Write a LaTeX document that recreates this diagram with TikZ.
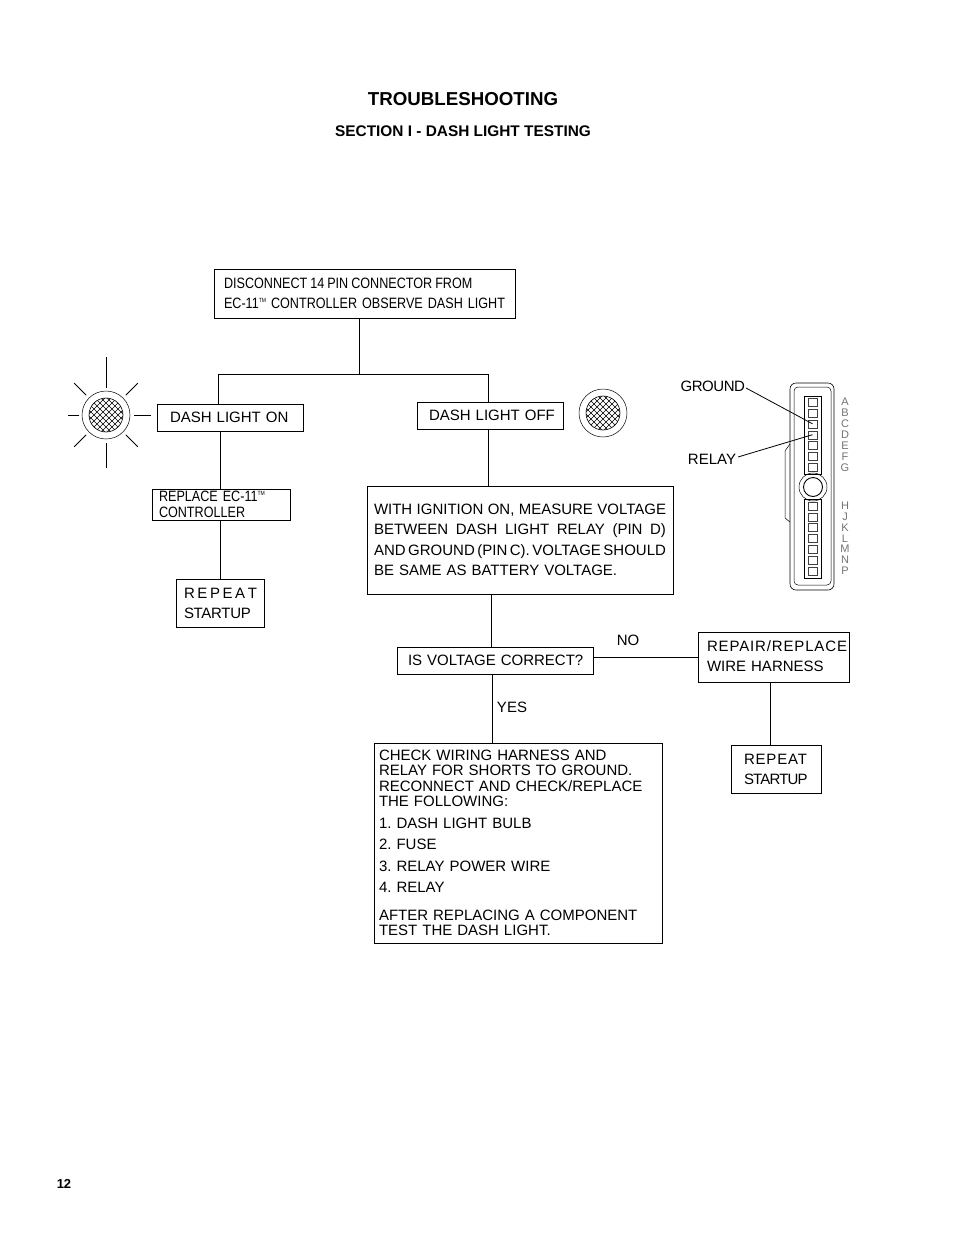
\documentclass[tikz,border=0pt]{standalone}
\usepackage{fontspec}
\usetikzlibrary{calc}
\setmainfont{Liberation Sans}
\newfontfamily\narrowFont[FakeStretch=0.84]{Liberation Sans}
\newcommand{\tmMark}{\raisebox{.7ex}{\fontsize{6}{6}\selectfont TM}}
\newcommand{\tightWords}[2]{\mbox{\spaceskip=#1pt\relax #2}}
\newcommand{\fitLine}[1]{\makebox[292pt][s]{\spaceskip=3pt plus 4pt minus 2pt\relax #1}}
\newcommand{\spaced}[2]{\mbox{\addfontfeature{LetterSpace=#1}#2}}

\begin{document}
\frenchspacing
\begin{tikzpicture}[
  x=1pt,y=-1pt,
  every node/.style={inner sep=0pt,outer sep=0pt},
  flowBox/.style={draw,line width=0.9pt,anchor=north west,align=left,inner xsep=9pt,font=\fontsize{15}{20}\selectfont},
  narrowBox/.style={flowBox,font=\narrowFont\fontsize{15}{19.5}\selectfont},
  flowLine/.style={line width=0.9pt},
  leaderLine/.style={line width=0.8pt},
  plainText/.style={font=\fontsize{15}{18}\selectfont},
  pinBox/.style={draw,line width=0.4pt,black!75,minimum width=8.5pt,minimum height=8pt},
  pinLetter/.style={text=black!55,font=\fontsize{11}{11}\selectfont},
  lampRing/.style={draw,circle,line width=0.5pt,minimum size=48pt},
  lampFace/.style={draw,circle,line width=0.6pt,minimum size=34pt,path picture={
    \foreach \d in {-24,-18,...,24} {
      \draw[line width=0.45pt,shift={(path picture bounding box.center)}] (\d-20,-20) -- (\d+20,20);
      \draw[line width=0.45pt,shift={(path picture bounding box.center)}] (\d-20,20) -- (\d+20,-20);
    }}}]

  \useasboundingbox (0,0) rectangle (954,1235);

  % headings
  \node[font=\bfseries\fontsize{18.7}{22}\selectfont] (title) at (463,99) {TROUBLESHOOTING};
  \node[font=\bfseries\fontsize{15.4}{18}\selectfont] (section) at (463,131) {SECTION I - DASH LIGHT TESTING};
  \node[font=\bfseries\fontsize{13}{16}\selectfont] (pageNum) at (64,1184) {12};

  % flow boxes
  \node[narrowBox,inner xsep=10pt,text width=281pt,minimum height=49pt] (disconnect) at (214,269)
    {\tightWords{3}{DISCONNECT 14 PIN CONNECTOR FROM}\\\mbox{EC-11\tmMark{} CONTROLLER OBSERVE DASH LIGHT}};
  \node[flowBox,inner xsep=13pt,text width=120pt,minimum height=27pt] (dashOn) at (157,404) {DASH LIGHT ON};
  \node[flowBox,inner xsep=12pt,text width=122pt,minimum height=27pt] (dashOff) at (417,402) {\mbox{DASH LIGHT OFF}};
  \node[narrowBox,inner xsep=7pt,text width=124pt,minimum height=31pt,font=\narrowFont\fontsize{15}{16.5}\selectfont] (replace) at (152,489)
    {REPLACE EC-11\tmMark\\CONTROLLER};
  \node[flowBox,inner xsep=8pt,text width=72pt,minimum height=48pt] (repeatOn) at (176,579)
    {\tightWords{2.6}{R E P E A T}\\\spaced{-2}{STARTUP}};
  \node[flowBox,inner xsep=7pt,text width=292pt,minimum height=108pt,font=\fontsize{15}{20.5}\selectfont] (measure) at (367,486)
    {\fitLine{WITH IGNITION ON, MEASURE VOLTAGE}\\
     \fitLine{BETWEEN DASH LIGHT RELAY (PIN D)}\\
     \fitLine{AND GROUND (PIN C). VOLTAGE SHOULD}\\
     BE SAME AS BATTERY VOLTAGE.};
  \node[flowBox,inner xsep=11pt,text width=174pt,minimum height=27pt] (isVoltage) at (397,647) {\mbox{IS VOLTAGE CORRECT?}};
  \node[flowBox,text width=133pt,minimum height=50pt] (repair) at (698,632)
    {\raisebox{2pt}{\spaced{5.7}{REPAIR/REPLACE}}\\\raisebox{2pt}{WIRE HARNESS}};
  \node[flowBox,inner xsep=13pt,text width=64pt,minimum height=48pt] (repeatOff) at (731,745)
    {\spaced{5.5}{REPEAT}\\\spaced{-5.5}{STARTUP}};
  \node[flowBox,inner xsep=5pt,text width=278pt,minimum height=200pt,font=\fontsize{15}{15.5}\selectfont] (check) at (374,743)
    {CHECK WIRING HARNESS AND\\RELAY FOR SHORTS TO GROUND.\\RECONNECT AND CHECK/REPLACE\\THE FOLLOWING:\\[6pt]
     1. DASH LIGHT BULB\\[6pt]2. FUSE\\[6pt]3. RELAY POWER WIRE\\[6pt]4. RELAY\\[12pt]
     AFTER REPLACING A COMPONENT\\TEST THE DASH LIGHT.};

  % connector positions
  \coordinate (split) at (359,374);
  \coordinate (xOn) at (218.5,0);
  \coordinate (xOnLow) at (220,0);
  \coordinate (xOff) at (488,0);
  \coordinate (xMeasure) at (491,0);
  \coordinate (xCheck) at (492,0);
  \coordinate (xRepair) at (770,0);
  \coordinate (yNo) at (0,657);

  % flow lines
  \draw [flowLine] (disconnect.south -| split) -- (split);
  \draw [flowLine] (split) -- (split -| xOn) -- (dashOn.north -| xOn);
  \draw [flowLine] (split) -- (split -| xOff) -- (dashOff.north -| xOff);
  \draw [flowLine] (dashOn.south -| xOnLow) -- (replace.north -| xOnLow);
  \draw [flowLine] (replace.south -| xOnLow) -- (repeatOn.north -| xOnLow);
  \draw [flowLine] (dashOff.south -| xOff) -- (measure.north -| xOff);
  \draw [flowLine] (measure.south -| xMeasure) -- (isVoltage.north -| xMeasure);
  \draw [flowLine] (isVoltage.south -| xCheck) -- (check.north -| xCheck);
  \draw [flowLine] (isVoltage.east |- yNo) -- (repair.west |- yNo);
  \draw [flowLine] (repair.south -| xRepair) -- (repeatOff.north -| xRepair);

  % answers
  \node[plainText] (no) at (628,640) {NO};
  \node[plainText] (yes) at (512,707) {YES};

  % lamps
  \node[lampRing] (ringOn) at (106,415) {};
  \node[lampFace] (lampOn) at (106,415) {};
  \node[lampRing] (ringOff) at (603,413) {};
  \node[lampFace] (lampOff) at (603,413) {};
  \foreach \ang/\rayIn/\rayOut in {90/27/58,270/28/53,180/27/38,0/28/45,45/28/45,135/28/45,225/28/45,315/28/45}
    \draw [leaderLine] ($(lampOn)+(\ang:\rayIn pt)$) -- ($(lampOn)+(\ang:\rayOut pt)$);

  % connector housing
  \coordinate (housing) at (813,487);
  \draw [line width=0.6pt,rounded corners=6pt] (790,383) rectangle (834,590);
  \draw [line width=0.5pt,rounded corners=4pt] (794,387) rectangle (831,585);
  \draw [line width=0.5pt] (790,444) -- (785,451) -- (785,518) -- (790,522);
  \draw [line width=0.6pt] (804,396) rectangle (821,474);
  \draw [line width=0.6pt] (804,499) rectangle (821,578);
  \node[draw,circle,line width=0.5pt,minimum size=28pt] (postOuter) at (housing) {};
  \node[draw,circle,line width=0.9pt,minimum size=19pt] (postInner) at (housing) {};

  % pins and letters
  \foreach \n/\pin in {0/A,1/B,2/C,3/D,4/E,5/F,6/G} {
    \node[pinBox] (pin\pin) at (812.5,{402+10.9*\n}) {};
    \node[pinLetter] (letter\pin) at (845,{402+10.9*\n}) {\pin};
  }
  \foreach \n/\pin in {0/H,1/J,2/K,3/L,4/M,5/N,6/P} {
    \node[pinBox] (pin\pin) at (812.5,{506+10.8*\n}) {};
    \node[pinLetter] (letter\pin) at (845,{506+10.8*\n}) {\pin};
  }

  % pin labels
  \node[plainText,anchor=east] (ground) at (745,386) {\spaced{-3}{GROUND}};
  \node[plainText,anchor=east] (relay) at (736,459) {RELAY};
  \draw [leaderLine] (ground.east) ++(1,2) -- (pinC.center);
  \draw [leaderLine] (relay.east) ++(2,-2) -- (pinD.center);
\end{tikzpicture}
\end{document}
